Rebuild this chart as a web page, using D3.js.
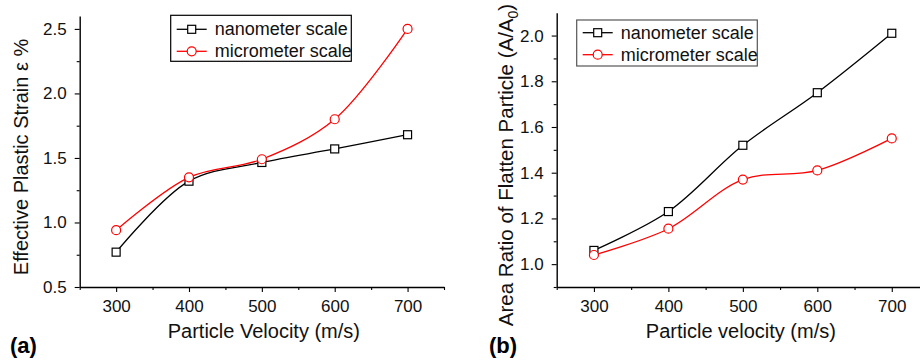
<!DOCTYPE html>
<html>
<head>
<meta charset="utf-8">
<script src="https://cdn.jsdelivr.net/npm/d3@7"></script>
<style>
  body { margin: 0; background: #fff; }
  svg { font-family: "Liberation Sans", Arial, Helvetica, sans-serif; }
</style>
</head>
<body>
<div id="chart"></div>
<script>
// data
var velocities = [300, 400, 500, 600, 700];
var strainNano = [0.77, 1.32, 1.465, 1.57, 1.68];
var strainMicro = [0.94, 1.35, 1.49, 1.80, 2.50];
var areaNano = [1.06, 1.23, 1.52, 1.75, 2.01];
var areaMicro = [1.04, 1.155, 1.37, 1.41, 1.55];

var xTicks = [300, 400, 500, 600, 700];
var xMinor = [250, 350, 450, 550, 650, 750];
var strainTicks = [0.5, 1.0, 1.5, 2.0, 2.5];
var strainMinor = [0.75, 1.25, 1.75, 2.25];
var areaTicks = [1.0, 1.2, 1.4, 1.6, 1.8, 2.0];
var areaMinor = [0.9, 1.1, 1.3, 1.5, 1.7, 1.9];

var seriesNames = ["nanometer scale", "micrometer scale"];

var svg = d3.select("#chart").append("svg")
    .attr("width", 920)
    .attr("height", 360);

function drawPanel(p) {
    var x = d3.scaleLinear().domain([250, 750]).range([p.left, p.right]);
    var y = d3.scaleLinear().domain(p.yDomain).range([p.bottom, p.top]);
    var g = svg.append("g");

    // minor ticks
    g.append("g")
        .attr("transform", "translate(0," + p.bottom + ")")
        .call(d3.axisBottom(x).tickValues(xMinor).tickSize(3).tickFormat(""))
        .call(function(a) { a.select(".domain").remove(); });
    g.append("g")
        .attr("transform", "translate(" + p.left + ",0)")
        .call(d3.axisLeft(y).tickValues(p.yMinor).tickSize(3).tickFormat(""))
        .call(function(a) { a.select(".domain").remove(); });

    // major axes
    var xa = g.append("g")
        .attr("transform", "translate(0," + p.bottom + ")")
        .call(d3.axisBottom(x).tickValues(xTicks).tickSize(5).tickSizeOuter(0).tickPadding(8));
    var ya = g.append("g")
        .attr("transform", "translate(" + p.left + ",0)")
        .call(d3.axisLeft(y).tickValues(p.yTicks).tickSize(5).tickSizeOuter(0).tickPadding(8)
            .tickFormat(d3.format(".1f")));
    [xa, ya].forEach(function(a) {
        a.selectAll("text").attr("font-size", 17).attr("fill", "#111")
            .attr("font-family", "Liberation Sans, Arial, sans-serif");
        a.select(".domain").attr("stroke-width", 1.4);
    });
    g.selectAll(".tick line").attr("stroke", "#000").attr("stroke-width", 1.1);

    var line = d3.line()
        .x(function(d) { return x(d[0]); })
        .y(function(d) { return y(d[1]); })
        .curve(d3.curveCatmullRom.alpha(0.5));

    var series = [
        { values: p.nano, color: "#000", shape: "square" },
        { values: p.micro, color: "#f00", shape: "circle" }
    ];
    series.forEach(function(s) {
        var pts = velocities.map(function(v, i) { return [v, s.values[i]]; });
        g.append("path")
            .datum(pts)
            .attr("fill", "none")
            .attr("stroke", s.color)
            .attr("stroke-width", 1.3)
            .attr("d", line);
        drawMarkers(g, pts.map(function(d) { return [x(d[0]), y(d[1])]; }), s);
    });

    // legend
    var lg = g.append("g").attr("transform", "translate(" + p.legend[0] + "," + p.legend[1] + ")");
    lg.append("rect")
        .attr("width", p.legendW).attr("height", 46)
        .attr("fill", "#fff")
        .attr("stroke", p.legendStroke).attr("stroke-width", 1.2);
    series.forEach(function(s, i) {
        var cy = p.legendRow + i * 22;
        lg.append("line")
            .attr("x1", 6).attr("x2", 36).attr("y1", cy).attr("y2", cy)
            .attr("stroke", s.color).attr("stroke-width", 1.3);
        drawMarkers(lg, [[21, cy]], s);
        lg.append("text")
            .attr("x", 44).attr("y", cy + 6)
            .attr("font-size", 18).attr("fill", "#111")
            .text(seriesNames[i]);
    });

    // axis titles
    g.append("text")
        .attr("x", (p.left + p.xTitleRight) / 2).attr("y", 338)
        .attr("text-anchor", "middle")
        .attr("font-size", 20).attr("fill", "#111")
        .text(p.xTitle);
    var yt = g.append("text")
        .attr("transform", "translate(" + p.yTitleX + "," + p.yTitleY + ") rotate(-90)")
        .attr("text-anchor", "middle")
        .attr("font-size", p.yTitleSize).attr("fill", "#111");
    p.yTitle(yt);

    g.append("text")
        .attr("x", p.tagX).attr("y", 353)
        .attr("font-size", 22).attr("font-weight", "bold").attr("fill", "#000")
        .text(p.tag);
}

function drawMarkers(g, pts, s) {
    if (s.shape === "square") {
        g.selectAll(null).data(pts).enter().append("rect")
            .attr("x", function(d) { return d[0] - 4; })
            .attr("y", function(d) { return d[1] - 4; })
            .attr("width", 8).attr("height", 8)
            .attr("fill", "#fff").attr("stroke", s.color).attr("stroke-width", 1.2);
    } else {
        g.selectAll(null).data(pts).enter().append("circle")
            .attr("cx", function(d) { return d[0]; })
            .attr("cy", function(d) { return d[1]; })
            .attr("r", 4.5)
            .attr("fill", "#fff").attr("stroke", s.color).attr("stroke-width", 1.2);
    }
}

drawPanel({
    left: 79.7, right: 444, top: 16, bottom: 287,
    yDomain: [0.5, 2.6], yTicks: strainTicks, yMinor: strainMinor,
    nano: strainNano, micro: strainMicro,
    legend: [170.7, 15.3], legendW: 180.6, legendStroke: "#000", legendRow: 14,
    xTitle: "Particle Velocity (m/s)", xTitleRight: 448,
    yTitleX: 28, yTitleY: 157, yTitleSize: 20,
    yTitle: function(t) { t.text("Effective Plastic Strain ε %"); },
    tag: "(a)", tagX: 10
});

drawPanel({
    left: 556.7, right: 929, top: 12.7, bottom: 287,
    yDomain: [0.9, 2.1], yTicks: areaTicks, yMinor: areaMinor,
    nano: areaNano, micro: areaMicro,
    legend: [576.7, 20], legendW: 180.6, legendStroke: "#555", legendRow: 12.7,
    xTitle: "Particle velocity (m/s)", xTitleRight: 925,
    yTitleX: 513, yTitleY: 165, yTitleSize: 20.5,
    yTitle: function(t) {
        t.append("tspan").text("Area Ratio of Flatten Particle (A/A");
        t.append("tspan").attr("font-size", 14).attr("dy", 5).text("0");
        t.append("tspan").attr("dy", -5).text(")");
    },
    tag: "(b)", tagX: 489
});
</script>
</body>
</html>
